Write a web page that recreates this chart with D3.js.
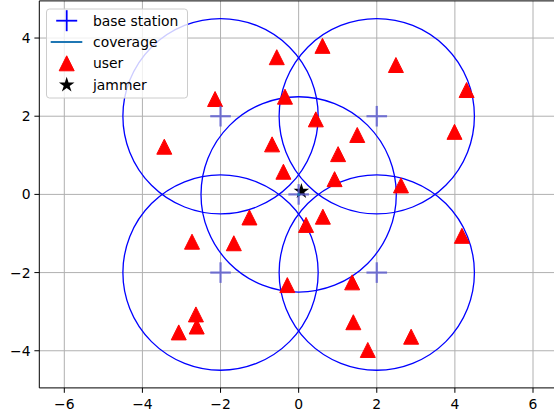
<!DOCTYPE html>
<html>
<head>
<meta charset="utf-8">
<script src="https://cdn.jsdelivr.net/npm/d3@7"></script>
<style>
  body { margin: 0; background: #fff; }
  svg text { font-family: "DejaVu Sans", sans-serif; }
</style>
</head>
<body>
<script>
// base stations and their coverage radius
const stationX = [0, -2, 2, -2, 2]
const stationY = [0, 2, 2, -2, -2]
const coverageRadius = 2.5

// users
const userX = [0.61, -0.56, 2.49, 4.30, -2.14, -0.35, 0.44, 1.50, 3.99, -3.44,
               -0.68, 1.01, -0.39, 0.92, 2.62, -1.26, 0.62, 0.19, -2.73, -1.66,
               4.18, -0.29, 1.37, -2.63, -2.61, -3.07, 1.40, 2.88, 1.77]
const userY = [3.80, 3.51, 3.31, 2.67, 2.44, 2.50, 1.92, 1.52, 1.60, 1.22,
               1.28, 1.03, 0.58, 0.39, 0.23, -0.59, -0.57, -0.78, -1.21, -1.25,
               -1.06, -2.32, -2.25, -3.07, -3.38, -3.53, -3.27, -3.64, -3.98]

const jammer = [0.07, 0.08]

const xTicks = [-6, -4, -2, 0, 2, 4, 6]
const yTicks = [-4, -2, 0, 2, 4]
const legendLabels = ["base station", "coverage", "user", "jammer"]

const W = 554, H = 414

const svg = d3.select("body").append("svg")
              .attr("width", W)
              .attr("height", H)

const x = d3.scaleLinear().domain([-6.64, 6.64]).range([39.3, 558])
const y = d3.scaleLinear().domain([-4.95, 4.95]).range([387.9, 0.9])

// grid
svg.append("g").selectAll("line")
   .data(xTicks).enter().append("line")
   .attr("x1", d => x(d)).attr("x2", d => x(d))
   .attr("y1", y.range()[0]).attr("y2", y.range()[1])
   .attr("stroke", "#b0b0b0").attr("stroke-width", 1)
svg.append("g").selectAll("line")
   .data(yTicks).enter().append("line")
   .attr("y1", d => y(d)).attr("y2", d => y(d))
   .attr("x1", x.range()[0]).attr("x2", x.range()[1])
   .attr("stroke", "#b0b0b0").attr("stroke-width", 1)

const plot = svg.append("g")

// coverage circles
plot.selectAll("circle.cov")
    .data(d3.range(stationX.length))
    .enter().append("circle")
    .attr("class", "cov")
    .attr("cx", i => x(stationX[i]))
    .attr("cy", i => y(stationY[i]))
    .attr("r", x(coverageRadius) - x(0))
    .attr("fill", "none")
    .attr("stroke", "#0000ff")
    .attr("stroke-width", 1.3)

// triangle marker like matplotlib '^'
const tri = {
  draw(ctx, size) {
    const h = Math.sqrt(size) / 2
    ctx.moveTo(0, -h)
    ctx.lineTo(-h, h)
    ctx.lineTo(h, h)
    ctx.closePath()
  }
}

plot.selectAll("path.user")
    .data(d3.range(userX.length))
    .enter().append("path")
    .attr("class", "user")
    .attr("d", d3.symbol().type(tri).size(15 * 15))
    .attr("transform", i => `translate(${x(userX[i])},${y(userY[i])})`)
    .attr("fill", "red")
    .attr("stroke", "red")
    .attr("stroke-width", 1)

// jammer
plot.append("path")
    .attr("d", d3.symbol().type(d3.symbolStar).size(75))
    .attr("transform", `translate(${x(jammer[0])},${y(jammer[1])})`)
    .attr("fill", "black")

// base stations
const plus = (g, cx, cy, half) => {
  g.append("line").attr("x1", cx - half).attr("x2", cx + half).attr("y1", cy).attr("y2", cy)
  g.append("line").attr("x1", cx).attr("x2", cx).attr("y1", cy - half).attr("y2", cy + half)
}
const bs = plot.append("g").attr("stroke", "#5a5ad0").attr("stroke-width", 2.2).attr("opacity", 0.8)
stationX.forEach((sx, i) => plus(bs, x(sx), y(stationY[i]), 10.3))

plot.append("circle")
    .attr("cx", x(0)).attr("cy", y(0)).attr("r", 1.5)
    .attr("fill", "#1f77b4")

// spines
const axes = svg.append("g").attr("stroke", "black").attr("stroke-width", 1)
axes.append("line").attr("x1", 39.3).attr("x2", 39.3).attr("y1", 0.9).attr("y2", 387.9)
axes.append("line").attr("x1", 39.3).attr("x2", 558).attr("y1", 387.9).attr("y2", 387.9)
axes.append("line").attr("x1", 39.3).attr("x2", 558).attr("y1", 0.9).attr("y2", 0.9)

// ticks and labels
const fmt = d => d < 0 ? "\u2212" + Math.abs(d) : String(d)
xTicks.forEach(t => {
  axes.append("line").attr("x1", x(t)).attr("x2", x(t)).attr("y1", 387.9).attr("y2", 392.8)
  svg.append("text").attr("x", x(t)).attr("y", 409)
     .attr("text-anchor", "middle").attr("font-size", 13.9).attr("fill", "black")
     .text(fmt(t))
})
yTicks.forEach(t => {
  axes.append("line").attr("x1", 34.4).attr("x2", 39.3).attr("y1", y(t)).attr("y2", y(t))
  svg.append("text").attr("x", 30.5).attr("y", y(t) + 5)
     .attr("text-anchor", "end").attr("font-size", 13.9).attr("fill", "black")
     .text(fmt(t))
})

// legend
const legend = svg.append("g").attr("id", "legend")
legend.append("rect")
      .attr("x", 46.5).attr("y", 9).attr("width", 141).attr("height", 89)
      .attr("rx", 3).attr("fill", "white").attr("fill-opacity", 0.8)
      .attr("stroke", "#cccccc").attr("stroke-width", 1)

const rowY = [20.7, 42, 63.3, 85]
const hx = 66.7
legendLabels.forEach((lab, i) => {
  legend.append("text").attr("x", 93).attr("y", rowY[i] + 5)
        .attr("font-size", 13.9).attr("fill", "black").text(lab)
})
const lp = legend.append("g").attr("stroke", "#0000ff").attr("stroke-width", 1.8)
plus(lp, hx, rowY[0], 10.5)
legend.append("line").attr("x1", 50.7).attr("x2", 82.3).attr("y1", rowY[1]).attr("y2", rowY[1])
      .attr("stroke", "#1f77b4").attr("stroke-width", 2)
legend.append("path").attr("d", d3.symbol().type(tri).size(15 * 15))
      .attr("transform", `translate(${hx},${rowY[2]})`).attr("fill", "red").attr("stroke", "red")
legend.append("path").attr("d", d3.symbol().type(d3.symbolStar).size(75))
      .attr("transform", `translate(${hx},${rowY[3]})`).attr("fill", "black")
</script>
</body>
</html>
